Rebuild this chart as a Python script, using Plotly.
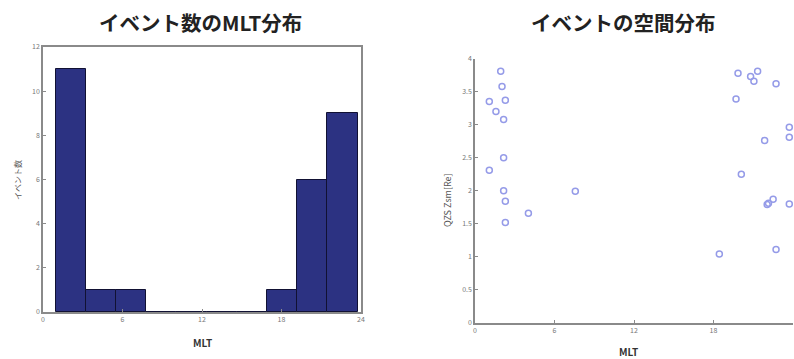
import plotly.graph_objects as go

# Histogram (MLT distribution of events)
hist_counts = [11, 1, 1, 0, 0, 0, 0, 1, 6, 9]
hist_bin_start = 0.95
hist_bin_width = 2.28

# Scatter (spatial distribution)
mlt = [1.94, 2.04, 1.08, 2.29, 1.58, 2.16, 2.16, 1.08, 2.16, 2.29, 4.03, 2.29, 7.57,
       19.85, 21.33, 20.80, 21.05, 22.72, 19.70, 23.72, 23.72, 21.86, 20.10,
       22.50, 22.05, 22.15, 23.72, 22.72, 18.44]
zsm = [3.81, 3.58, 3.35, 3.37, 3.20, 3.08, 2.50, 2.31, 2.00, 1.84, 1.66, 1.52, 1.99,
       3.78, 3.81, 3.73, 3.66, 3.62, 3.39, 2.96, 2.81, 2.76, 2.25,
       1.87, 1.79, 1.81, 1.80, 1.11, 1.04]

x_ticks = [0, 6, 12, 18, 24]
y_ticks_left = [0, 2, 4, 6, 8, 10, 12]
y_ticks_right = [0, 0.5, 1, 1.5, 2, 2.5, 3, 3.5, 4]

W, H = 794, 359
FONT = "Noto Sans CJK JP"

def px(x):
    return x / W

def py(y):
    return 1 - y / H

centers = [hist_bin_start + hist_bin_width * (i + 0.5) for i in range(len(hist_counts))]

fig = go.Figure()
fig.add_trace(go.Bar(
    x=centers, y=hist_counts, width=hist_bin_width,
    marker=dict(color="#2c3282", line=dict(color="#111133", width=1)),
    xaxis="x", yaxis="y", showlegend=False,
))
fig.add_trace(go.Scatter(
    x=mlt, y=zsm, mode="markers",
    marker=dict(symbol="circle-open", size=6, color="#959be8", line=dict(width=1.5)),
    xaxis="x2", yaxis="y2", showlegend=False, cliponaxis=False,
))

axis_common = dict(
    showgrid=False, zeroline=False, linecolor="#8a8a8a", linewidth=1.5,
    ticks="inside", ticklen=3, tickcolor="#8a8a8a", automargin=False,
    tickfont=dict(family=FONT, size=7, color="#777777"),
)

fig.update_layout(
    width=W, height=H, autosize=False,
    margin=dict(l=0, r=0, t=0, b=0, autoexpand=False),
    paper_bgcolor="white", plot_bgcolor="white",
    xaxis=dict(domain=[px(43), px(361)], range=[0, 24], tickvals=x_ticks,
               anchor="y", mirror=True, showline=True, **axis_common),
    yaxis=dict(domain=[py(312), py(47)], range=[0, 12], tickvals=y_ticks_left,
               anchor="x", mirror=True, showline=True, **axis_common),
    xaxis2=dict(domain=[px(475), px(793)], range=[0, 24], tickvals=x_ticks,
                anchor="y2", showline=True, **axis_common),
    yaxis2=dict(domain=[py(322.7), py(58.7)], range=[0, 4], tickvals=y_ticks_right,
                anchor="x2", showline=True, **axis_common),
    bargap=0,
)

annotations = [
    dict(text="<b>イベント数のMLT分布</b>", x=px(200), y=py(22), font=dict(size=20.5, color="#222222")),
    dict(text="<b>イベントの空間分布</b>", x=px(623), y=py(22), font=dict(size=20.5, color="#222222")),
    dict(text="<b>MLT</b>", x=px(202), y=py(342), font=dict(size=10, color="#333333")),
    dict(text="<b>MLT</b>", x=px(628), y=py(351), font=dict(size=10, color="#333333")),
    dict(text="イベント数", x=px(17), y=py(180), textangle=-90, font=dict(size=8, color="#555555")),
    dict(text="QZS Zsm[Re]", x=px(447), y=py(200), textangle=-90, font=dict(size=9, color="#555555")),
]
for a in annotations:
    a.update(xref="paper", yref="paper", showarrow=False, xanchor="center", yanchor="middle")
    a["font"]["family"] = FONT
fig.update_layout(annotations=annotations)

fig.write_html(
    "out.html",
    config={"displayModeBar": False},
    post_script="document.body.style.margin='0';document.body.style.overflow='hidden';",
)
